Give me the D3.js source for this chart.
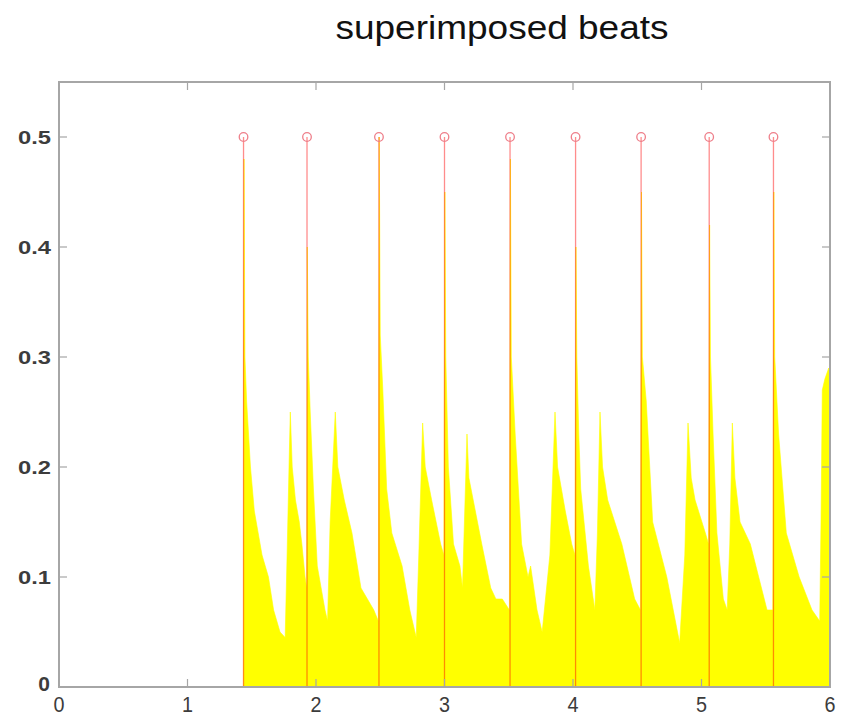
<!DOCTYPE html>
<html><head><meta charset="utf-8">
<script src="https://cdn.jsdelivr.net/npm/d3@7"></script>
<style>body{margin:0;background:#fff}svg{display:block}</style>
</head><body>
<svg id="chart" width="847" height="716"></svg>
<script>
const titleText = "superimposed beats";
const xTicks = [0, 1, 2, 3, 4, 5, 6];
const yTicks = [0, 0.1, 0.2, 0.3, 0.4, 0.5];
const yTickLabels = ["0", "0.1", "0.2", "0.3", "0.4", "0.5"];
const beatTimes = [1.436, 1.93, 2.49, 3.0, 3.51, 4.02, 4.53, 5.06, 5.56];
const beatHeights = [0.5, 0.5, 0.5, 0.5, 0.5, 0.5, 0.5, 0.5, 0.5];
const envTime = [
  0, 1.435, 1.436, 1.440, 1.447, 1.46, 1.49, 1.52, 1.55, 1.58, 1.63, 1.67, 1.72, 1.76, 1.775, 1.79, 1.80, 1.815, 1.84, 1.87, 1.89, 1.915, 1.928,
  1.932, 1.94, 1.955, 1.98, 2.01, 2.04, 2.07, 2.09, 2.11, 2.15, 2.17, 2.22, 2.28, 2.35, 2.40, 2.45, 2.485,
  2.492, 2.50, 2.52, 2.55, 2.59, 2.67, 2.73, 2.78, 2.80, 2.83, 2.85, 2.90, 2.97, 2.995,
  3.003, 3.01, 3.03, 3.07, 3.12, 3.14, 3.175, 3.19, 3.24, 3.29, 3.36, 3.40, 3.45, 3.505,
  3.513, 3.52, 3.55, 3.60, 3.65, 3.67, 3.72, 3.76, 3.82, 3.86, 3.88, 3.94, 3.99, 4.015,
  4.023, 4.03, 4.045, 4.06, 4.12, 4.17, 4.19, 4.21, 4.23, 4.27, 4.38, 4.48, 4.525,
  4.533, 4.54, 4.57, 4.62, 4.73, 4.83, 4.87, 4.895, 4.92, 4.95, 5.03, 5.055,
  5.063, 5.07, 5.09, 5.12, 5.17, 5.20, 5.22, 5.24, 5.26, 5.30, 5.38, 5.51, 5.555,
  5.563, 5.57, 5.60, 5.66, 5.76, 5.86, 5.92, 5.93, 5.94, 5.96, 5.99, 6.0
];
const envValue = [
  0, 0, 0.30, 0.48, 0.30, 0.26, 0.20, 0.16, 0.14, 0.12, 0.10, 0.07, 0.05, 0.045, 0.12, 0.20, 0.25, 0.20, 0.17, 0.15, 0.13, 0.10, 0.09,
  0.40, 0.30, 0.25, 0.18, 0.11, 0.09, 0.07, 0.06, 0.15, 0.25, 0.20, 0.17, 0.14, 0.09, 0.08, 0.07, 0.06,
  0.50, 0.32, 0.27, 0.18, 0.14, 0.11, 0.07, 0.045, 0.12, 0.24, 0.20, 0.17, 0.13, 0.12,
  0.45, 0.30, 0.20, 0.13, 0.11, 0.09, 0.23, 0.19, 0.16, 0.13, 0.09, 0.08, 0.08, 0.07,
  0.48, 0.30, 0.23, 0.13, 0.10, 0.11, 0.07, 0.05, 0.12, 0.25, 0.20, 0.16, 0.13, 0.12,
  0.40, 0.30, 0.23, 0.18, 0.11, 0.07, 0.14, 0.25, 0.20, 0.17, 0.13, 0.08, 0.07,
  0.45, 0.30, 0.26, 0.15, 0.10, 0.04, 0.12, 0.24, 0.19, 0.17, 0.14, 0.13,
  0.42, 0.30, 0.23, 0.14, 0.08, 0.07, 0.13, 0.24, 0.19, 0.15, 0.13, 0.07, 0.07,
  0.45, 0.30, 0.23, 0.14, 0.10, 0.07, 0.06, 0.15, 0.27, 0.28, 0.29, 0.28
];

const svg = d3.select("#chart");
const m = {left: 59, right: 830, top: 82, bottom: 687};
const x = d3.scaleLinear().domain([0, 6]).range([m.left, m.right]);
const y = d3.scaleLinear().domain([0, 0.55]).range([m.bottom, m.top]);

svg.append("text").attr("x", 502).attr("y", 39).attr("text-anchor", "middle")
  .attr("font-family", "Liberation Sans, Arial, sans-serif").attr("font-size", 34)
  .attr("textLength", 333).attr("lengthAdjust", "spacingAndGlyphs")
  .attr("fill", "#111").text(titleText);

const env = envTime.map((t, i) => ({t, v: envValue[i]}));
const area = d3.area().x(d => x(d.t)).y0(y(0)).y1(d => y(d.v));
svg.append("path").datum(env).attr("d", area).attr("fill", "#ffff00").attr("stroke", "#ffff00").attr("stroke-width", 0.6);

const beats = beatTimes.map((t, i) => ({t, h: beatHeights[i]}));
svg.append("g").selectAll("line").data(beats).join("line")
  .attr("x1", d => x(d.t)).attr("x2", d => x(d.t))
  .attr("y1", y(0)).attr("y2", d => y(d.h))
  .attr("stroke", "#ff0000").attr("stroke-opacity", 0.45).attr("stroke-width", 1.3);
svg.append("g").selectAll("circle").data(beats).join("circle")
  .attr("cx", d => x(d.t)).attr("cy", d => y(d.h)).attr("r", 4.3)
  .attr("fill", "none").attr("stroke", "#ee7f8a").attr("stroke-width", 1.3);

// frame
const frameColor = "#a6a6a6";
svg.append("rect").attr("x", m.left).attr("y", m.top)
  .attr("width", m.right - m.left).attr("height", m.bottom - m.top)
  .attr("fill", "none").attr("stroke", frameColor).attr("stroke-width", 2);

const tickLen = 8;
const gAx = svg.append("g").attr("stroke", frameColor).attr("stroke-width", 1.2);
yTicks.forEach(v => {
  gAx.append("line").attr("x1", m.left).attr("x2", m.left + tickLen).attr("y1", y(v)).attr("y2", y(v));
  gAx.append("line").attr("x1", m.right).attr("x2", m.right - tickLen).attr("y1", y(v)).attr("y2", y(v));
});
xTicks.forEach(v => {
  gAx.append("line").attr("x1", x(v)).attr("x2", x(v)).attr("y1", m.bottom).attr("y2", m.bottom - tickLen);
  gAx.append("line").attr("x1", x(v)).attr("x2", x(v)).attr("y1", m.top).attr("y2", m.top + tickLen);
});

const labelColor = "#3c3c3c";
yTicks.forEach((v, i) => {
  const lab = yTickLabels[i];
  const t = svg.append("text").attr("x", lab === "0" ? 50 : 51).attr("y", y(v) + 7 - (lab === "0" ? 3 : 0))
    .attr("text-anchor", "end").attr("font-family", "Liberation Sans, Arial, sans-serif")
    .attr("font-weight", "bold").attr("font-size", lab === "0" ? 21 : 18).attr("fill", labelColor).text(lab);
  if (lab !== "0") t.attr("textLength", 33).attr("lengthAdjust", "spacingAndGlyphs");
});
xTicks.forEach(v => {
  svg.append("text").attr("x", x(v)).attr("y", 712).attr("text-anchor", "middle")
    .attr("font-family", "Liberation Sans, Arial, sans-serif")
    .attr("font-size", 22).attr("fill", labelColor)
    .attr("textLength", 11).attr("lengthAdjust", "spacingAndGlyphs").text(v);
});
</script>
</body></html>
